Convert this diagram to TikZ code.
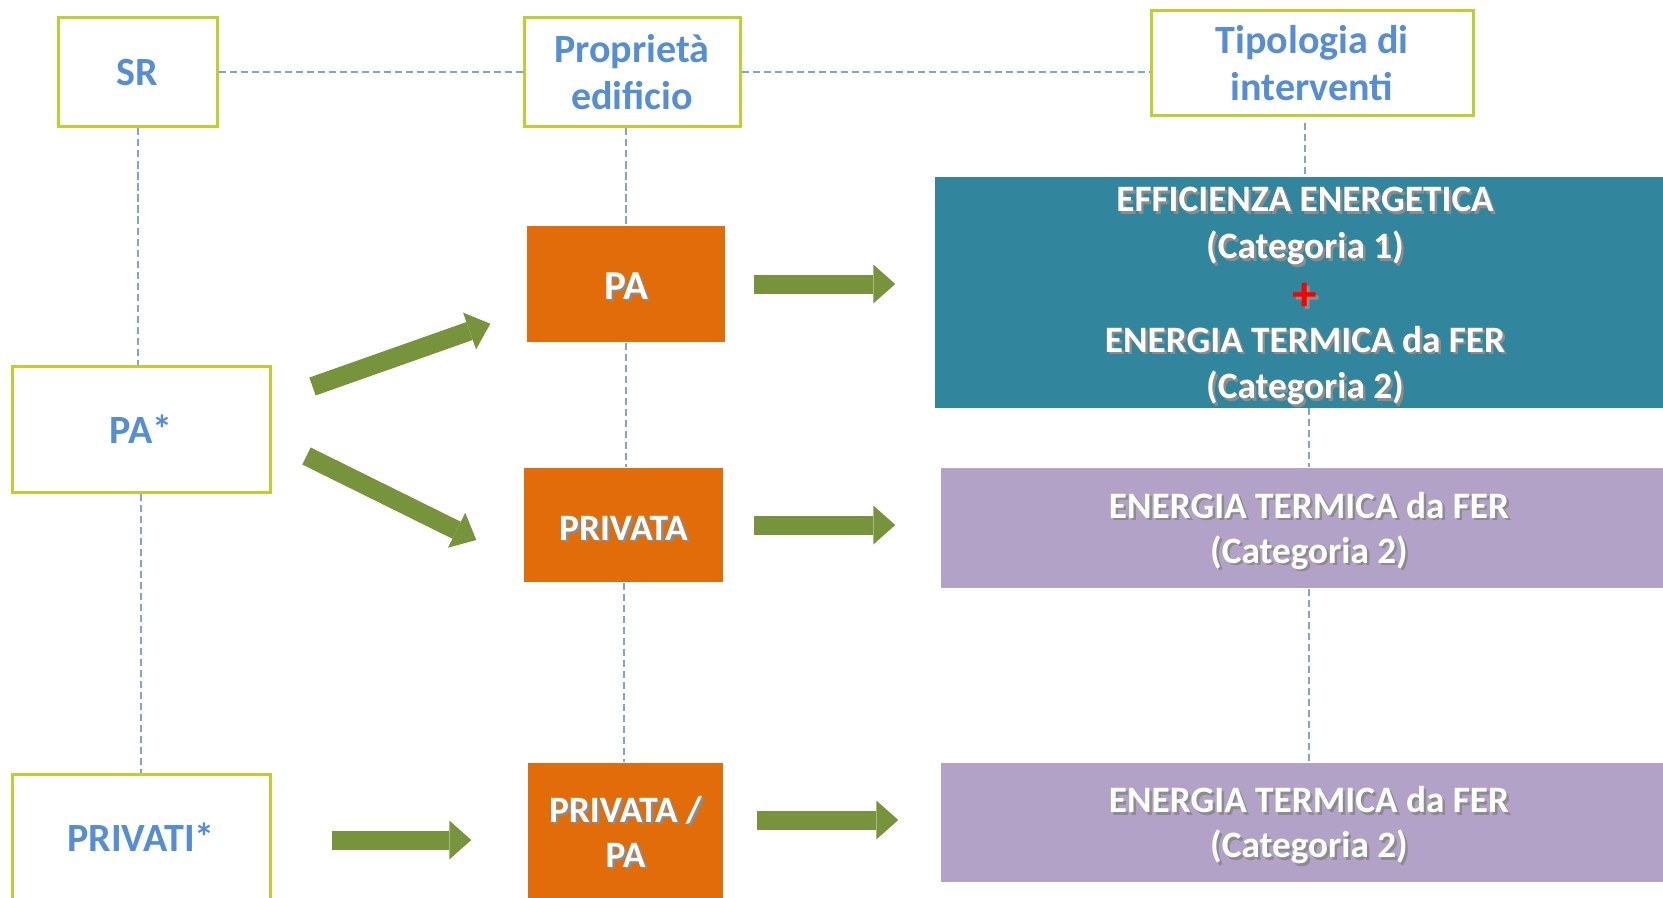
\documentclass[tikz,border=0pt]{standalone}
\usepackage{fontspec}
\setmainfont{Carlito}
\usetikzlibrary{arrows.meta}

\definecolor{limeline}{RGB}{190,208,45}
\definecolor{headblue}{RGB}{85,142,213}
\definecolor{ownorange}{RGB}{227,108,10}
\definecolor{cattealc}{RGB}{49,133,156}
\definecolor{catlilac}{RGB}{179,162,199}
\definecolor{arrowgreen}{RGB}{119,147,60}
\definecolor{dashblue}{RGB}{125,163,216}

% white text with a small drop shadow
\newcommand{\shd}[1]{\rlap{\kern0.7pt\raisebox{-0.7pt}{\color{black!45}#1}}#1}
\newcommand{\capstrut}{\rule{0pt}{9.8pt}}

\begin{document}
\begin{tikzpicture}[
    headbox/.style={draw=limeline,line width=0.03cm,fill=white,text=headblue,inner sep=0pt,align=center,
        font=\bfseries\fontsize{11.4}{13.4}\selectfont},
    ownbox/.style={fill=ownorange,text=white,inner sep=0pt,align=center,
        font=\bfseries\fontsize{10.6}{12.8}\selectfont,execute at begin node=\rule{0pt}{9.5pt}},
    catbox/.style={text=white,inner sep=0pt,align=center,
        font=\bfseries\fontsize{10.6}{12.8}\selectfont},
    dashline/.style={draw=dashblue,line width=0.02cm,dash pattern=on 0.07cm off 0.04cm},
    greenarrow/.style={draw=arrowgreen,line width=0.19cm,
        -{Triangle[width=0.39cm,length=0.22cm,line width=0pt]}}
]
    \useasboundingbox (0,0) rectangle (16.63,-8.98);

    % column headers
    \node[headbox,minimum width=1.59cm,minimum height=1.09cm] (sr) at (1.375,-0.725) {SR};
    \node[headbox,minimum width=2.16cm,minimum height=1.09cm] (prop) at (6.32,-0.725) {Proprietà\\edificio};
    \node[headbox,minimum width=3.22cm,minimum height=1.05cm] (tip) at (13.12,-0.635) {Tipologia di\\interventi};

    % subjects
    \node[headbox,minimum width=2.58cm,minimum height=1.26cm] (pas) at (1.41,-4.29) {PA*};
    \node[headbox,minimum width=2.58cm,minimum height=1.26cm] (priv) at (1.41,-8.37) {PRIVATI*};

    % ownership
    \node[ownbox,minimum width=1.98cm,minimum height=1.16cm,font=\bfseries\fontsize{11.7}{13}\selectfont] (pa) at (6.26,-2.84) {\shd{PA}};
    \node[ownbox,minimum width=1.99cm,minimum height=1.14cm] (privata) at (6.235,-5.25) {\shd{PRIVATA}};
    \node[ownbox,minimum width=1.95cm,minimum height=1.40cm] (privpa) at (6.255,-8.33) {\shd{PRIVATA /}\\\shd{PA}};

    % interventions
    \node[catbox,fill=cattealc,minimum width=7.40cm,minimum height=2.29cm,
        font=\bfseries\fontsize{10.6}{13.3}\selectfont] (eff) at (13.05,-2.925)
        {\capstrut\shd{EFFICIENZA ENERGETICA}\\\shd{(Categoria 1)}\\\raisebox{-1.6pt}{\fontsize{14}{13.3}\selectfont\color{red}\shd{+}}\\\shd{ENERGIA TERMICA da FER}\\\shd{(Categoria 2)}};
    \node[catbox,fill=catlilac,minimum width=7.36cm,minimum height=1.20cm] (fer1) at (13.09,-5.28)
        {\capstrut\shd{ENERGIA TERMICA da FER}\\\shd{(Categoria 2)}};
    \node[catbox,fill=catlilac,minimum width=7.36cm,minimum height=1.19cm] (fer2) at (13.09,-8.225)
        {\capstrut\shd{ENERGIA TERMICA da FER}\\\shd{(Categoria 2)}};

    % dashed guides
    \draw[dashline] (sr.east) -- (prop.west);
    \draw[dashline] (prop.east) -- (prop.east -| tip.west);
    \draw[dashline] (sr.south) -- (sr.south |- pas.north);
    \draw[dashline] (pas.south) -- (pas.south |- priv.north);
    \draw[dashline] (pa.north |- prop.south) -- (pa.north);
    \draw[dashline] (pa.south) -- (pa.south |- privata.north);
    \draw[dashline] (privata.south) -- (privata.south |- privpa.north);
    \draw[dashline] ([yshift=-0.06cm]eff.north |- tip.south) -- (eff.north);
    \draw[dashline] (fer1.north |- eff.south) -- (fer1.north);
    \draw[dashline] (fer1.south) -- (fer2.north);

    % arrows
    \draw[greenarrow] ([shift={(0.41,-0.22)}]pas.north east) -- ([shift={(-0.36,0.19)}]pa.south west);
    \draw[greenarrow] ([shift={(0.35,-0.27)}]pas.east) -- ([shift={(-0.47,-0.15)}]privata.west);
    \draw[greenarrow,shorten <=0.60cm,shorten >=0.56cm] ([yshift=-0.03cm]priv.east) -- ([yshift=-0.03cm]priv.east -| privpa.west);
    \draw[greenarrow,shorten <=0.28cm,shorten >=0.39cm] (pa.east) -- (pa.east -| eff.west);
    \draw[greenarrow,shorten <=0.30cm,shorten >=0.45cm] (privata.east) -- (privata.east -| fer1.west);
    \draw[greenarrow,shorten <=0.33cm,shorten >=0.42cm] ([yshift=0.025cm]fer2.west -| privpa.east) -- ([yshift=0.025cm]fer2.west);
\end{tikzpicture}
\end{document}
